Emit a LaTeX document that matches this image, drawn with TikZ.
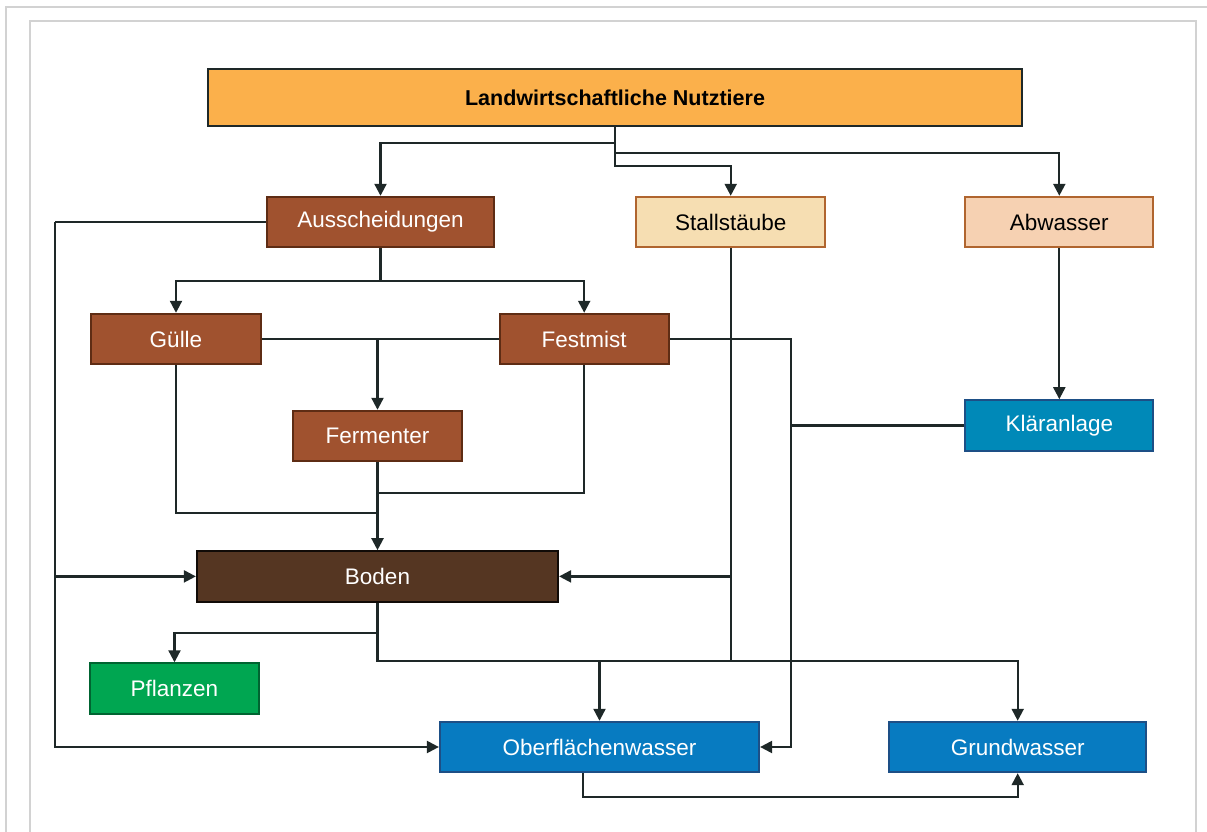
\documentclass[tikz,border=0pt]{standalone}
\usepackage{fontspec}
\setmainfont{Liberation Sans}
\usepackage{xcolor}
\usepackage{tikz}
\usetikzlibrary{arrows.meta,positioning}
\definecolor{cKopf}{HTML}{FBB04B}
\definecolor{cMist}{HTML}{A0522F}
\definecolor{cMistRand}{HTML}{5E2C14}
\definecolor{cStaub}{HTML}{F6DEB2}
\definecolor{cAbw}{HTML}{F6D1B2}
\definecolor{cHellRand}{HTML}{B0652F}
\definecolor{cKlaer}{HTML}{0089B8}
\definecolor{cWasser}{HTML}{077BC1}
\definecolor{cWasserRand}{HTML}{1D4F86}
\definecolor{cBoden}{HTML}{553622}
\definecolor{cPflanze}{HTML}{00A651}
\definecolor{cLinie}{HTML}{1E2828}
\definecolor{cRahmen}{HTML}{D2D2D2}

\begin{document}
\begin{tikzpicture}[
  x=0.25mm, y=-0.25mm,
  box/.style={rectangle, draw, line width=0.5mm, minimum height=12.6mm, minimum width=42.3mm,
    align=center, inner sep=1mm, font=\fontsize{16}{18}\selectfont},
  kopf/.style={box, fill=cKopf, draw=cLinie, minimum width=203.5mm, minimum height=14.4mm,
    font=\fontsize{15.3}{17}\selectfont\bfseries},
  mist/.style={box, fill=cMist, draw=cMistRand, text=white},
  staub/.style={box, fill=cStaub, draw=cHellRand, minimum width=47.3mm},
  abwbox/.style={box, fill=cAbw, draw=cHellRand, minimum width=47mm},
  wasser/.style={box, fill=cWasser, draw=cWasserRand, text=white},
  arr/.style={-{Triangle[length=3mm,width=3mm]}, line width=0.55mm, draw=cLinie},
  lnk/.style={line width=0.55mm, draw=cLinie}
]
\useasboundingbox (0,0) rectangle (1207,832);
\draw[cRahmen, line width=0.5mm] (1260,7) -- (6,7) -- (6,900);
\draw[cRahmen, line width=0.5mm] (30,900) -- (30,21) -- (1196,21) -- (1196,900);

\node[kopf] (tiere) at (615,97.5) {Landwirtschaftliche Nutztiere};
\node[mist, minimum width=56.8mm] (aus) at (380.5,222) {Ausscheidungen};
\node[staub, right=35mm of aus] (stall) {Stallstäube};
\node[abwbox, right=34.5mm of stall] (abw) {Abwasser};
\node[box, fill=cKlaer, draw=cWasserRand, text=white, minimum width=47mm, below=37.75mm of abw] (klaer) {Kläranlage};

\node[mist] (guelle) at (176,339) {Gülle};
\node[mist, right=59.25mm of guelle] (fest) {Festmist};
\node[mist] (ferm) at (377.5,436) {Fermenter};
\node[box, fill=cBoden, draw=black!80!cBoden, text=white, minimum width=90.3mm, below=22mm of ferm] (boden) {Boden};

\node[box, fill=cPflanze, draw=black!40!cPflanze, text=white] (pfl) at (174.5,688.5) {Pflanzen};
\node[wasser, minimum width=79.8mm] (ober) at (599.5,747) {Oberflächenwasser};
\node[wasser, minimum width=64.3mm, right=32mm of ober] (grund) {Grundwasser};

\coordinate (lft) at (55,222);

\draw[arr] (tiere.south) -- ++(0,16) -| (aus.north);
\draw[arr] (tiere.south) -- ++(0,26) -| (abw.north);
\draw[arr] (tiere.south) -- ++(0,39) -| (stall.north);
\draw[arr] (aus.south) -- ++(0,33) -| (guelle.north);
\draw[arr] (aus.south) -- ++(0,33) -| (fest.north);
\draw[lnk] (guelle.east) -- (fest.west);
\draw[arr] (ferm.north |- guelle.east) -- (ferm.north);
\draw[lnk] (guelle.south) -- ++(0,148) -| (ferm.south);
\draw[lnk] (fest.south) -- ++(0,128) -| (ferm.south);
\draw[arr] (ferm.south) -- (ferm.south |- boden.north);
\draw[lnk] (aus.west) -- (lft);
\draw[arr] (lft) |- (ober.west);
\draw[arr] (lft |- boden.west) -- (boden.west);
\draw[arr] (fest.east) -- ++(121,0) |- (ober.east);
\draw[lnk] (klaer.west) -- ++(-173,0);
\draw[arr] (abw) -- (klaer);
\draw[arr] (stall.south) |- (boden.east);
\draw[arr] (stall.south) -- ++(0,413) -| (ober.north);
\draw[arr] (boden.south) -- ++(0,30) -| (pfl.north);
\draw[arr] (boden.south) -- ++(0,58) -| (grund.north);
\draw[arr] ([xshift=-4.1mm]ober.south) -- ++(0,24) -| (grund.south);
\end{tikzpicture}
\end{document}
